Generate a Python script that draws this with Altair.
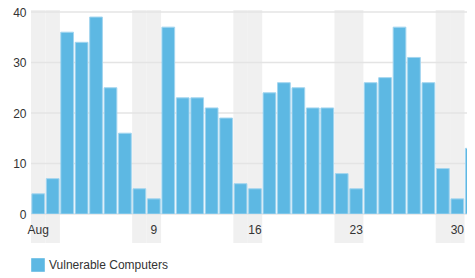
import altair as alt
import pandas as pd

days = list(range(1, 32))
values = [4, 7, 36, 34, 39, 25, 16, 5, 3, 37, 23, 23, 21, 19, 6, 5,
          24, 26, 25, 21, 21, 8, 5, 26, 27, 37, 31, 26, 9, 3, 13]
weekend_days = [1, 2, 8, 9, 15, 16, 22, 23, 29, 30]
tick_days = [1, 9, 16, 23, 30]
grid_values = [0, 10, 20, 30, 40]
series_name = "Vulnerable Computers"

df = pd.DataFrame({"day": days, "value": values, "series": series_name})
wk = pd.DataFrame({"day": weekend_days})
grid = pd.DataFrame({"v": grid_values})

FONT = "Liberation Sans"
xscale = alt.Scale(domain=days, range=[0, 448], paddingInner=0, paddingOuter=0)
yscale = alt.Scale(domain=[0, 40], nice=False)

xaxis = alt.Axis(
    values=tick_days, title=None, ticks=False, domain=False, grid=False,
    labelAngle=0, labelPadding=10, labelFontSize=12, labelColor="#333333",
    labelFont=FONT,
    labelExpr="datum.value == 1 ? 'Aug' : datum.label")
yaxis = alt.Axis(
    values=grid_values, title=None, ticks=False, domain=False, grid=False,
    labelPadding=5, labelFontSize=12, labelColor="#333333", labelFont=FONT)

bands = alt.Chart(wk).mark_rect(color="#f0f0f0").encode(
    x=alt.X("day:O", scale=xscale, axis=xaxis),
    y=alt.value(-2),
    y2=alt.value(231),
)

rules = alt.Chart(grid).mark_rule(color="#e4e4e4", strokeWidth=1.5).encode(
    y=alt.Y("v:Q", scale=yscale, axis=yaxis),
)

bars = alt.Chart(df).mark_bar(
    width=alt.RelativeBandSize(0.88), stroke="#a3d5ef", strokeWidth=1, clip=True
).encode(
    x=alt.X("day:O", scale=xscale, axis=xaxis),
    y=alt.Y("value:Q", scale=yscale, axis=yaxis),
    color=alt.Color("series:N", scale=alt.Scale(domain=[series_name], range=["#5db8e3"]),
                    legend=alt.Legend(
                        title=None, orient="none", legendX=0, legendY=246,
                        symbolType="square", symbolSize=185, symbolStrokeWidth=0,
                        labelFontSize=12, labelColor="#333333", labelFont=FONT,
                        labelOffset=4)),
)

chart = alt.layer(bands, rules, bars).properties(
    width=436, height=202,
    autosize=alt.AutoSizeParams(type="none"),
    padding={"left": 23, "top": 4, "right": 0, "bottom": 58},
).configure_view(stroke=None)

chart.save("out.html", embed_options={"renderer": "svg", "actions": False})
